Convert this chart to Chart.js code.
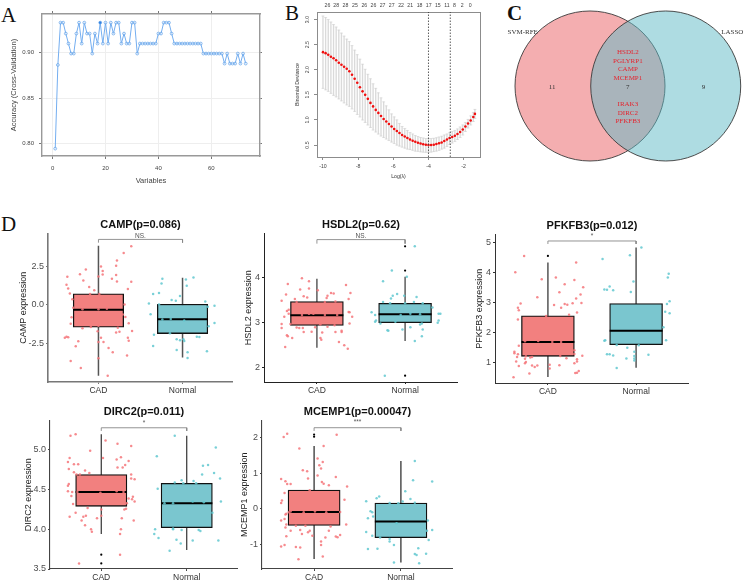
<!DOCTYPE html>
<html>
<head>
<meta charset="utf-8">
<style>
html,body{margin:0;padding:0;background:#fff;width:743px;height:581px;overflow:hidden}
canvas{position:absolute}
.tag{position:absolute;font-family:"Liberation Serif",serif;font-size:21px;line-height:21px;color:#111}
</style>
<script src="https://cdn.jsdelivr.net/npm/chart.js@4/dist/chart.umd.min.js"></script>
</head>
<body>
<div class="tag" style="left:1px;top:5px">A</div>
<div class="tag" style="left:285px;top:3px">B</div>
<div class="tag" style="left:507px;top:3px;font-weight:bold">C</div>
<div class="tag" style="left:1px;top:214px">D</div>
<script>
// panel A
var rfeVars = [1,2,3,4,5,6,7,8,9,10,11,12,13,14,15,16,17,18,19,20,21,22,23,24,25,26,27,28,29,30,31,32,33,34,35,36,37,38,39,40,41,42,43,44,45,46,47,48,49,50,51,52,53,54,55,56,57,58,59,60,61,62,63,64,65,66,67,68,69,70,71,72,73];
var rfeAcc = [.7945,.8865,.933,.933,.921,.91,.899,.899,.921,.933,.91,.933,.921,.921,.899,.921,.91,.933,.91,.933,.91,.933,.921,.933,.933,.91,.921,.91,.91,.933,.933,.899,.91,.91,.91,.91,.91,.91,.91,.921,.921,.933,.933,.933,.921,.91,.91,.91,.91,.91,.91,.91,.91,.91,.91,.91,.899,.899,.899,.899,.899,.899,.899,.899,.888,.899,.888,.888,.888,.899,.888,.899,.888];

// panel B
var lassoLog = [-10,-9.85,-9.7,-9.55,-9.4,-9.25,-9.1,-8.95,-8.8,-8.65,-8.5,-8.35,-8.2,-8.05,-7.9,-7.75,-7.6,-7.45,-7.3,-7.15,-7,-6.85,-6.7,-6.55,-6.4,-6.25,-6.1,-5.95,-5.8,-5.65,-5.5,-5.35,-5.2,-5.05,-4.9,-4.75,-4.6,-4.45,-4.3,-4.15,-4,-3.85,-3.7,-3.55,-3.4,-3.25,-3.1,-2.95,-2.8,-2.65,-2.5,-2.35,-2.2,-2.05,-1.9,-1.75,-1.6,-1.45,-1.36];
var lassoMean = [2.35,2.33,2.30,2.26,2.23,2.19,2.14,2.10,2.06,2.02,1.97,1.90,1.82,1.74,1.65,1.57,1.50,1.42,1.34,1.27,1.20,1.14,1.08,1.02,.97,.92,.87,.82,.78,.74,.70,.67,.64,.61,.585,.565,.545,.53,.515,.505,.50,.50,.505,.52,.535,.55,.58,.61,.64,.66,.685,.72,.76,.81,.87,.93,.99,1.06,1.12];
var lassoUpper = [3.07,3.04,3.00,2.95,2.90,2.85,2.79,2.73,2.67,2.61,2.56,2.48,2.39,2.30,2.21,2.11,2.01,1.91,1.82,1.72,1.63,1.54,1.44,1.36,1.28,1.20,1.12,1.06,1.00,.93,.87,.83,.79,.75,.72,.69,.67,.65,.64,.63,.63,.63,.635,.645,.66,.675,.70,.72,.745,.77,.79,.82,.86,.90,.95,1.01,1.08,1.15,1.21];
var lassoLower = [1.63,1.60,1.57,1.53,1.49,1.46,1.42,1.38,1.34,1.30,1.27,1.22,1.17,1.11,1.06,1.00,.95,.90,.85,.80,.76,.72,.68,.65,.62,.59,.56,.53,.50,.48,.46,.44,.42,.41,.395,.38,.375,.365,.36,.355,.355,.36,.37,.38,.395,.42,.44,.47,.51,.54,.57,.61,.65,.70,.77,.84,.90,.97,1.03];
var lassoLines = [-4,-2.76];
var lassoTopPos = [-10,-9.47,-8.91,-8.34,-7.77,-7.22,-6.67,-6.12,-5.55,-5,-4.43,-3.88,-3.33,-2.78,-2.32,-1.85,-1.37];
var lassoTopLab = ["26","28","28","25","26","26","27","27","22","21","18","17","15","11","8","2","0"];

// panel C
var vennCentres = [[0,0],[1,0]];
var vennGenes = [["HSDL2",.453],["PGLYRP1",.334],["CAMP",.22],["MCEMP1",.106],["IRAK3",-.238],["DIRC2",-.357],["PFKFB3",-.471]];
var vennLabels = [["7",.5,-.01],["11",-.5,-.01],["9",1.5,-.01],["SVM-RFE",-.889,.717],["LASSO",1.88,.717]];

// panel D: jittered samples [x, y]
var campCad = [[1.39,3.79],[1.30,3.36],[1.22,2.88],[1.21,2.53],[1.03,2.49],[.85,2.29],[.78,1.99],[.63,1.82],[1.05,2.19],[1.05,1.97],[1,1.84],[1.21,1.93],[1.16,1.69],[.82,1.58],[1.22,1.52],[1.39,1.49],[.62,1.30],[.89,1.15],[.64,1.06],[.95,.95],[1.35,1.02],[.66,.74],[.90,.71],[1.01,.71],[.69,.37],[1.31,.02],[.70,-.19],[.81,-.28],[1,-.28],[1.10,-.26],[1.29,-.63],[.68,-.80],[1.32,-.78],[.67,-1.23],[1.36,-1.19],[1,-1.36],[.81,-1.52],[.91,-1.43],[1.23,-1.49],[1.40,-1.69],[1.25,-1.75],[1.21,-1.80],[.99,-1.71],[.62,-2.06],[.64,-2.10],[.60,-2.14],[1.03,-2.14],[1.35,-2.14],[1.36,-2.32],[.76,-2.36],[1,-2.40],[1.06,-2.40],[.73,-2.68],[1.12,-2.79],[1.17,-3.07],[1.34,-3.29],[1,-3.46],[.67,-3.64],[.79,-4.09],[1.11,-4.59]];
var campNormal = [[1.76,1.69],[2.13,1.77],[2.04,1.65],[1.75,1.39],[2.05,1.23],[1.65,.71],[1.72,.76],[1.97,.58],[1.87,.32],[1.92,.26],[1.60,.09],[1.72,.02],[2.27,.22],[2.38,-.06],[2.30,-.13],[1.62,-.61],[1.76,-.95],[1.86,-.91],[2.02,-1.02],[2.38,-1.17],[2.31,-1.39],[1.66,-1.93],[1.85,-1.84],[2.17,-2.06],[2.20,-2.08],[1.93,-2.23],[1.97,-2.29],[2.01,-2.23],[2.02,-2.34],[1.65,-2.66],[1.93,-2.92],[2.29,-3.01],[2.06,-3.07],[2.06,-3.44]];
var hsdlCad = [[.83,3.98],[.91,3.91],[.67,3.85],[1.33,3.83],[.91,3.75],[.81,3.73],[1.01,3.71],[.65,3.62],[1.38,3.65],[1.16,3.65],[1.19,3.64],[.85,3.58],[.89,3.55],[1.12,3.59],[1.11,3.54],[.75,3.52],[.60,3.48],[1.36,3.52],[1.21,3.46],[1.09,3.45],[.77,3.45],[.68,3.28],[.66,3.25],[.63,3.12],[.68,3.19],[1.36,3.23],[1.37,3.22],[1.40,3.12],[.83,3.16],[.91,3.19],[.96,3.19],[1.09,3.16],[1.23,3.16],[.60,2.96],[.60,2.87],[.70,2.96],[1.04,2.95],[.77,2.88],[.80,2.87],[.84,2.87],[.98,2.89],[1.12,2.90],[1.20,2.93],[1.37,2.97],[.66,2.71],[.67,2.69],[.72,2.65],[.85,2.78],[.94,2.79],[1.06,2.77],[1.21,2.78],[1.28,2.81],[1.28,2.78],[1.04,2.65],[1.05,2.61],[1.25,2.56],[1.31,2.49],[1.35,2.41],[.64,2.45]];
var hsdlNormal = [[2.11,4.69],[1.85,4.15],[2.02,4.01],[1.75,3.91],[1.91,3.63],[1.99,3.59],[1.86,3.59],[2.13,3.56],[1.84,3.53],[1.75,3.45],[1.83,3.42],[2.10,3.45],[2,3.42],[2.20,3.42],[2.31,3.33],[1.62,3.22],[1.66,3.16],[2.38,3.19],[2.40,3.19],[1.95,3.16],[2.06,3.19],[2.17,3.18],[1.67,3.04],[1.66,3.01],[2.38,3.04],[2.37,2.99],[1.72,2.97],[1.89,3.01],[2.19,2.97],[2.17,2.95],[1.80,2.82],[1.81,2.81],[1.97,2.84],[2.06,2.89],[2.20,2.84],[2.19,2.69],[2.11,2.58],[1.77,1.81]];
var pfkCad = [[.73,4.55],[.63,4.01],[1.32,4.33],[.93,3.77],[1.09,3.83],[1.30,3.75],[1.19,3.61],[1.40,3.51],[1.13,3.34],[1.37,3.26],[.88,3.17],[1.32,3.13],[1.38,2.98],[.69,2.96],[1.28,2.97],[1.19,2.95],[1.22,2.92],[1.07,2.91],[.66,2.82],[.67,2.74],[1.15,2.82],[1.33,2.66],[1.24,2.59],[.98,2.55],[.66,2.43],[.74,1.70],[.89,1.71],[1.05,1.68],[1.15,1.68],[.67,1.55],[.62,1.35],[.62,1.30],[.66,1.27],[.65,1.18],[.75,1.20],[.82,1.18],[.74,1.12],[.80,1.16],[1.30,1.40],[1.30,1.28],[1.39,1.22],[1.21,1.14],[1.14,1.21],[1.33,1.10],[1.33,1.03],[.64,1.03],[.75,1.01],[.74,.97],[.67,.88],[.82,.89],[.88,.89],[.85,.84],[1.02,.92],[1.02,.79],[1.13,.90],[1.30,.97],[1.35,.71],[1.33,.65],[1.31,.64],[.79,.63],[.61,.50]];
var pfkNormal = [[2.06,4.83],[1.93,4.57],[1.62,4.45],[2.37,3.96],[2.36,3.83],[1.97,3.70],[1.70,3.53],[1.64,3.43],[1.67,3.42],[1.74,3.41],[1.94,3.35],[2.38,3.04],[2.35,2.95],[2.33,2.69],[2.38,2.64],[2.31,2.17],[2.34,1.74],[1.65,1.74],[1.64,1.72],[1.78,1.58],[2.03,1.57],[1.90,1.49],[1.98,1.35],[1.67,1.27],[1.70,1.27],[1.74,1.23],[2.14,1.25],[1.98,1.21],[1.89,1.13],[1.98,1.13],[1.98,1.06],[1.78,.81]];
var dircCad = [[.70,5.20],[.64,5.18],[1.05,5.12],[1.19,5.08],[1.35,5.05],[.87,4.99],[1.02,4.90],[1.23,4.91],[1.18,4.88],[.63,4.90],[.61,4.85],[.68,4.82],[.73,4.82],[1.32,4.86],[1.28,4.81],[1.25,4.78],[1.19,4.78],[.62,4.76],[.68,4.72],[.81,4.74],[.71,4.69],[.75,4.69],[.86,4.71],[1.35,4.69],[1.35,4.64],[1.39,4.63],[.62,4.57],[.61,4.55],[.61,4.48],[.66,4.47],[.72,4.47],[.99,4.46],[1.18,4.48],[1.26,4.47],[.65,4.42],[1.37,4.41],[1.32,4.39],[1.36,4.38],[1.39,4.35],[.67,4.32],[1.30,4.33],[.84,4.27],[1.29,4.26],[1.27,4.25],[1,4.25],[.70,4.21],[.63,4.16],[.79,4.16],[.82,4.17],[.95,4.14],[1,4.17],[.77,4.11],[1.24,4.14],[1.38,4.11],[.81,4.05],[.88,4],[.89,3.97],[1.23,4],[1.22,3.94],[1.22,3.68],[.74,3.57]];
var dircNormal = [[1.86,5.18],[2.34,5.03],[1.65,4.92],[2.25,4.81],[2.19,4.80],[2.32,4.71],[2.18,4.69],[2.39,4.64],[1.94,4.62],[2.08,4.61],[1.86,4.59],[1.96,4.58],[2.11,4.58],[1.66,4.51],[1.74,4.33],[1.84,4.33],[2.07,4.35],[2.20,4.34],[2.40,4.35],[2.30,4.21],[1.63,4],[1.84,4.01],[1.84,4],[1.94,3.99],[2.14,3.99],[2.16,3.98],[1.62,3.94],[1.67,3.89],[1.88,3.87],[1.93,3.82],[2.07,3.86],[2.37,3.86],[1.80,3.73]];
var mcemCad = [[.69,2.10],[.65,2.01],[1.26,2.07],[1.11,1.76],[.83,1.69],[1.04,1.41],[1.10,1.31],[1.06,1.22],[1.08,1.13],[.87,1.08],[.92,1.05],[1.04,.93],[1.25,.89],[.62,.83],[.93,.85],[.67,.77],[1.09,.75],[1.11,.70],[1.17,.66],[.69,.69],[.73,.69],[1.38,.62],[.66,.44],[.95,.52],[1.35,.25],[.63,.23],[.62,.16],[.73,-.08],[.71,-.10],[.88,-.10],[1.01,-.08],[1.14,-.10],[1.30,-.09],[.68,-.14],[.67,-.16],[.66,-.29],[.62,-.33],[.68,-.44],[.67,-.53],[.79,-.48],[.90,-.48],[1.19,-.50],[1.37,-.44],[.73,-.62],[.84,-.60],[.95,-.62],[.93,-.66],[.86,-.71],[.98,-.76],[1.17,-.62],[1.30,-.74],[1.25,-.78],[1.27,-.80],[.68,-.77],[1.13,-.81],[1.08,-.92],[1.08,-1.02],[.66,-1.02],[.62,-1.06],[.79,-1.07],[.84,-1.09],[.82,-1.42],[1.10,-1.34]];
var mcemNormal = [[2.16,1.34],[2.14,.80],[2.36,.76],[2.05,.49],[1.75,.34],[1.72,.29],[2.11,.27],[1.60,.21],[2.02,.20],[1.87,.16],[1.97,.15],[2.16,.17],[1.65,-.07],[1.67,-.10],[1.68,-.22],[1.62,-.27],[1.95,-.41],[2.31,-.33],[2.36,-.60],[1.60,-.65],[2.30,-.62],[1.67,-.76],[1.76,-.81],[1.87,-.85],[1.87,-.92],[1.92,-1.02],[2.32,-.88],[1.62,-1.13],[1.73,-1.12],[2.20,-1.11],[2.16,-1.27],[2.18,-1.30],[2.29,-1.26],[1.92,-1.51],[2.21,-1.53]];

var groups = ["CAD","Normal"];
var SANS = "'Liberation Sans',Arial,sans-serif";

function addCanvas(l, t, w, h) {
  var c = document.createElement("canvas");
  c.width = w; c.height = h;
  c.style.left = l + "px"; c.style.top = t + "px";
  document.body.appendChild(c);
  return c.getContext("2d");
}

function fixedTicks(values) {
  return function (s) { s.ticks = values.map(function (v) { return { value: v }; }); };
}

function pairs(xs, ys) {
  return xs.map(function (x, i) { return { x: x, y: ys[i] }; });
}

var base = { responsive: false, animation: false, events: [], layout: { padding: 0, autoPadding: false } };
function opts(extra) { return Object.assign({}, base, extra); }
var quiet = { legend: { display: false }, tooltip: { enabled: false } };

// A: recursive feature elimination accuracy
(function () {
  var xt = [0,20,40,60], yt = [.8,.85,.9];
  var fr = "#999999";
  new Chart(addCanvas(0, 0, 262, 188), {
    type: "line",
    data: { datasets: [{
      data: pairs(rfeVars, rfeAcc),
      borderColor: "#74aef0", borderWidth: 1, tension: 0,
      pointRadius: 1.4, pointBorderWidth: .7, pointBorderColor: "#5a9de8",
      pointBackgroundColor: rfeVars.map(function (v) { return v === 18 ? "#2f7fe0" : "rgba(255,255,255,.4)"; })
    }] },
    options: opts({
      plugins: quiet,
      scales: {
        x: { type: "linear", position: "bottom", min: -4, max: 78.4, afterBuildTicks: fixedTicks(xt), afterFit: function (s) { s.height = 32; },
          border: { color: fr, width: 1.4 }, grid: { color: "#eeeeee", tickColor: "#777", tickLength: 3 },
          ticks: { font: { family: SANS, size: 6 }, color: "#444", padding: 6, maxRotation: 0 },
          title: { display: true, text: "Variables", color: "#444", font: { family: SANS, size: 7.5 }, padding: { top: 0, bottom: 3 } } },
        x2: { type: "linear", position: "top", min: -4, max: 78.4, afterBuildTicks: fixedTicks(xt), afterFit: function (s) { s.height = 14; },
          border: { color: fr, width: 1.4 }, grid: { drawOnChartArea: false, tickColor: "#777", tickLength: 3 }, ticks: { display: false } },
        y: { type: "linear", position: "left", min: .7864, max: .9425, afterBuildTicks: fixedTicks(yt), afterFit: function (s) { s.width = 42; },
          border: { color: fr, width: 1.4 }, grid: { color: "#eeeeee", tickColor: "#777", tickLength: 3 },
          ticks: { font: { family: SANS, size: 6 }, color: "#444", padding: 5, callback: function (v) { return v.toFixed(2); } },
          title: { display: true, text: "Accuracy (Cross-Validation)", color: "#444", font: { family: SANS, size: 7.5 }, padding: { top: 9, bottom: 0 } } },
        y2: { type: "linear", position: "right", min: .7864, max: .9425, afterBuildTicks: fixedTicks(yt), afterFit: function (s) { s.width = 2; },
          border: { color: fr, width: 1.4 }, grid: { drawOnChartArea: false, tickColor: "#777", tickLength: 2 }, ticks: { display: false } }
      }
    })
  });
})();

// B: lasso cross validation curve
(function () {
  var fr = "#8c8c8c", yMin = .262, yMax = 3.15;
  var sets = [
    { type: "scatter", data: pairs(lassoLog, lassoMean), pointRadius: 1.3, pointBorderWidth: 0, backgroundColor: "#f01010" },
    { type: "scatter", data: pairs(lassoLog, lassoUpper), pointStyle: "line", pointRadius: 1.5, borderColor: "#d2d2d2", borderWidth: .6 },
    { type: "scatter", data: pairs(lassoLog, lassoLower), pointStyle: "line", pointRadius: 1.5, borderColor: "#d2d2d2", borderWidth: .6 },
    { type: "bar", data: lassoLog.map(function (x, i) { return { x: x, y: [lassoLower[i], lassoUpper[i]] }; }), backgroundColor: "#dadada", barThickness: .7 }
  ];
  lassoLines.forEach(function (x) {
    sets.unshift({ type: "line", data: [{ x: x, y: yMin }, { x: x, y: yMax }], borderColor: "#333", borderWidth: .8, borderDash: [1.5, 1.5], pointRadius: 0 });
  });
  new Chart(addCanvas(280, 0, 204, 186), {
    type: "bar",
    data: { datasets: sets },
    options: opts({
      plugins: quiet,
      scales: {
        x: { type: "linear", position: "bottom", offset: false, min: -10.34, max: -1.07, afterBuildTicks: fixedTicks([-10,-8,-6,-4,-2]), afterFit: function (s) { s.height = 29; },
          border: { color: fr, width: 1 }, grid: { offset: false, drawOnChartArea: false, tickColor: fr, tickLength: 3 },
          ticks: { font: { family: SANS, size: 5.2 }, color: "#444", padding: 3, maxRotation: 0 },
          title: { display: true, text: "Log(λ)", color: "#333", font: { family: SANS, size: 5.2 }, padding: { top: 0, bottom: 6 } } },
        x2: { type: "linear", position: "top", min: -10.34, max: -1.07, afterBuildTicks: fixedTicks(lassoTopPos), afterFit: function (s) { s.height = 12; },
          border: { color: fr, width: 1 }, grid: { drawOnChartArea: false, drawTicks: false, tickLength: 0 },
          ticks: { font: { family: SANS, size: 5.2 }, color: "#444", padding: 3, maxRotation: 0, autoSkip: false, callback: function (v, i) { return lassoTopLab[i]; } } },
        y: { type: "linear", position: "left", min: yMin, max: yMax, afterBuildTicks: fixedTicks([.5,1,1.5,2,2.5,3]), afterFit: function (s) { s.width = 37; },
          border: { color: fr, width: 1 }, grid: { drawOnChartArea: false, tickColor: fr, tickLength: 3 },
          ticks: { font: { family: SANS, size: 5.2 }, color: "#444", padding: 3, minRotation: 90, maxRotation: 90, crossAlign: "center", callback: function (v) { return v.toFixed(1); } },
          title: { display: true, text: "Binomial Deviance", color: "#333", font: { family: SANS, size: 5.2 }, padding: { top: 14, bottom: 0 } } },
        y2: { type: "linear", position: "right", min: yMin, max: yMax, afterBuildTicks: fixedTicks([]), afterFit: function (s) { s.width = 4; },
          border: { color: fr, width: 1 }, grid: { drawOnChartArea: false, drawTicks: false }, ticks: { display: false } }
      }
    })
  });
})();

// C: venn diagram, one unit is the distance between the centres
var vennText = {
  id: "vennText",
  afterDatasetsDraw: function (chart) {
    var c = chart.ctx, sx = chart.scales.x, sy = chart.scales.y;
    c.save();
    c.textAlign = "center"; c.textBaseline = "middle";
    c.font = "7px 'Liberation Serif',serif";
    c.fillStyle = "#e5252f";
    vennGenes.forEach(function (g) { c.fillText(g[0], sx.getPixelForValue(.5), sy.getPixelForValue(g[1])); });
    c.fillStyle = "#333";
    vennLabels.forEach(function (g) { c.fillText(g[0], sx.getPixelForValue(g[1]), sy.getPixelForValue(g[2])); });
    c.restore();
  }
};
new Chart(addCanvas(490, 0, 253, 190), {
  type: "bubble",
  data: { datasets: [
    { data: [{ x: vennCentres[1][0], y: vennCentres[1][1], r: 75 }], backgroundColor: "rgba(93,185,197,.5)", borderColor: "#3a3a3a", borderWidth: .9, clip: false },
    { data: [{ x: vennCentres[0][0], y: vennCentres[0][1], r: 75 }], backgroundColor: "#f4aeb0", borderColor: "#3a3a3a", borderWidth: .9, clip: false }
  ] },
  options: opts({
    plugins: quiet,
    scales: {
      x: { type: "linear", display: false, min: -1.321, max: 2.021 },
      y: { type: "linear", display: false, min: -1.374, max: 1.136 }
    }
  }),
  plugins: [vennText]
});

// D: box plots with jitter
var sigText = {
  id: "sigText",
  afterDatasetsDraw: function (chart) {
    var m = chart.options.plugins.sigText, c = chart.ctx;
    c.save();
    c.textAlign = "center"; c.textBaseline = "middle";
    c.font = "6.5px " + SANS;
    c.fillStyle = "#555";
    c.fillText(m.text, chart.scales.x.getPixelForValue(1.5), chart.scales.y.getPixelForValue(m.y));
    c.restore();
  }
};

function boxPlot(p) {
  var W = 40, H = 18, topH = 16.4;
  var tickGap = p.tickPad;
  var boxPx = .6 * (p.right - p.left) / 2.2;
  var line = function (pts, col, w) { return { type: "line", data: pts, borderColor: col, borderWidth: w, pointRadius: 0, tension: 0 }; };
  var whisk = function (x, lo, hi) { return line([{ x: x, y: lo }, { x: x, y: hi }], p.whisker, p.whiskerW); };
  var med = function (x, m) { return line([{ x: x - .3, y: m }, { x: x + .3, y: m }], "#000", 2); };
  var dots = function (pts, col, r) {
    return { type: "scatter", data: pts.map(function (q) { return { x: q[0], y: q[1] }; }), backgroundColor: col, pointBorderWidth: 0, pointRadius: r, clip: false };
  };
  var bk = p.bracket;
  new Chart(addCanvas(p.left - W, p.top - topH, p.right - p.left + W, p.bottom - p.top + topH + H), {
    type: "bar",
    data: { datasets: [
      dots(p.cad, "rgba(244,118,122,.85)", 1.25),
      dots(p.normal, "rgba(98,200,208,.85)", 1.25),
      dots(p.outliers, "#000", 1.1),
      med(1, p.boxA[1]), med(2, p.boxB[1]),
      { type: "bar", data: [{ x: 1, y: [p.boxA[0], p.boxA[2]] }, { x: 2, y: [p.boxB[0], p.boxB[2]] }],
        backgroundColor: ["#f2807f", "#7ac6cf"], borderColor: "#111", borderWidth: 1.3, borderSkipped: false, barThickness: boxPx },
      whisk(1, p.whiskA[0], p.whiskA[1]), whisk(2, p.whiskB[0], p.whiskB[1]),
      line([{ x: 1, y: bk[1] }, { x: 1, y: bk[0] }, { x: 2, y: bk[0] }, { x: 2, y: bk[1] }], "#888", .9)
    ] },
    options: opts({
      plugins: Object.assign({}, quiet, {
        sigText: { text: p.sig, y: p.sigY },
        title: { display: true, text: p.title, fullSize: false, color: "#111", font: { family: SANS, size: 11, weight: "bold" }, padding: { top: 1, bottom: 2.2 } }
      }),
      scales: {
        x: { type: "linear", offset: false, min: .4, max: 2.6, afterBuildTicks: fixedTicks([1, 2]), afterFit: function (s) { s.height = H; },
          border: { color: p.axis, width: p.axisW }, grid: { offset: false, drawOnChartArea: false, tickColor: p.axis, tickLength: 2 },
          ticks: { font: { family: SANS, size: 8.5 }, color: "#333", padding: 2, maxRotation: 0, autoSkip: false, callback: function (v, i) { return groups[i]; } } },
        y: { type: "linear", min: p.yMin, max: p.yMax, afterBuildTicks: fixedTicks(p.yTicks), afterFit: function (s) { s.width = W; },
          border: { color: p.axis, width: p.axisW }, grid: { drawOnChartArea: false, tickColor: p.axis, tickLength: 2 },
          ticks: { font: { family: SANS, size: 9 }, color: "#4d4d4d", padding: tickGap, autoSkip: false, callback: function (v, i) { return p.yLabels[i]; } },
          title: { display: true, text: p.title.split("(")[0] + " expression", color: "#222", font: { family: SANS, size: 9 }, padding: { top: W - p.titleGap - 5.4, bottom: 0 } } }
      }
    }),
    plugins: [sigText]
  });
}

boxPlot({ title: "CAMP(p=0.086)", left: 48, right: 233, top: 233, bottom: 382, titleGap: 24, tickPad: 2,
  axis: "#777", axisW: 1.6, whisker: "#555", whiskerW: 1.5,
  yMin: -5, yMax: 4.63, yTicks: [-2.5, 0, 2.5], yLabels: ["-2.5", "0.0", "2.5"],
  cad: campCad, normal: campNormal, outliers: [],
  boxA: [-1.45, -.32, .71], boxB: [-1.86, -.93, .04], whiskA: [-4.6, 3.83], whiskB: [-3.42, 1.75],
  bracket: [4.24, 4.03], sig: "NS.", sigY: 4.46 });
boxPlot({ title: "HSDL2(p=0.62)", left: 264, right: 458, top: 233, bottom: 382, titleGap: 15, tickPad: 2,
  axis: "#222", axisW: 1, whisker: "#444", whiskerW: 1.3,
  yMin: 1.669, yMax: 4.978, yTicks: [2, 3, 4], yLabels: ["2", "3", "4"],
  cad: hsdlCad, normal: hsdlNormal, outliers: [[2, 4.69], [2, 4.15], [2, 1.81]],
  boxA: [2.93, 3.156, 3.46], boxB: [2.99, 3.18, 3.42], whiskA: [2.43, 3.97], whiskB: [2.58, 4.01],
  bracket: [4.84, 4.75], sig: "NS.", sigY: 4.92 });
boxPlot({ title: "PFKFB3(p=0.012)", left: 495, right: 689, top: 234, bottom: 383, titleGap: 15, tickPad: 2,
  axis: "#333", axisW: 1, whisker: "#555", whiskerW: 1.5,
  yMin: .31, yMax: 5.27, yTicks: [1, 2, 3, 4, 5], yLabels: ["1", "2", "3", "4", "5"],
  cad: pfkCad, normal: pfkNormal, outliers: [[1, 4.55]],
  boxA: [1.2, 1.68, 2.55], boxB: [1.59, 2.05, 2.96], whiskA: [.51, 4.33], whiskB: [.82, 4.83],
  bracket: [5.05, 4.95], sig: "*", sigY: 5.21 });
boxPlot({ title: "DIRC2(p=0.011)", left: 50, right: 238, top: 420, bottom: 569, titleGap: 21, tickPad: 2,
  axis: "#444", axisW: 1.1, whisker: "#333", whiskerW: 1.2,
  yMin: 3.5, yMax: 5.373, yTicks: [3.5, 4, 4.5, 5], yLabels: ["3.5", "4.0", "4.5", "5.0"],
  cad: dircCad, normal: dircNormal, outliers: [[1, 3.68], [1, 3.57]],
  boxA: [4.29, 4.47, 4.69], boxB: [4.02, 4.33, 4.58], whiskA: [3.94, 5.2], whiskB: [3.74, 5.18],
  bracket: [5.28, 5.24], sig: "*", sigY: 5.34 });
boxPlot({ title: "MCEMP1(p=0.00047)", left: 262, right: 453, top: 420, bottom: 569, titleGap: 17, tickPad: 2,
  axis: "#444", axisW: 1.1, whisker: "#222", whiskerW: 1.2,
  yMin: -1.69, yMax: 2.475, yTicks: [-1, 0, 1, 2], yLabels: ["-1", "0", "1", "2"],
  cad: mcemCad, normal: mcemNormal, outliers: [[1, 2.08], [1, 2.02]],
  boxA: [-.47, -.09, .52], boxB: [-.81, -.36, .16], whiskA: [-1.41, 1.76], whiskB: [-1.51, 1.34],
  bracket: [2.27, 2.18], sig: "***", sigY: 2.43 });
</script>
</body>
</html>
